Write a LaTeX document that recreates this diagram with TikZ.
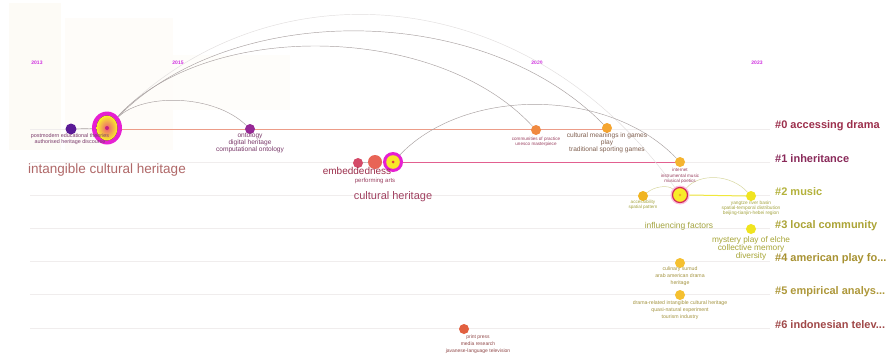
\documentclass[tikz,border=0pt]{standalone}
\usepackage{fontspec}
\setmainfont{Liberation Sans}
\usetikzlibrary{shapes.geometric}
\definecolor{yearc}{HTML}{D030E0}
\definecolor{c0}{HTML}{9C2F4C}
\definecolor{c1}{HTML}{8A2A5A}
\definecolor{c2}{HTML}{B4B23C}
\definecolor{c3}{HTML}{ACA436}
\definecolor{c4}{HTML}{A89232}
\definecolor{c5}{HTML}{AE983A}
\definecolor{c6}{HTML}{A04848}
\definecolor{arcgray}{HTML}{A8A0A0}
\definecolor{rowline}{HTML}{F0EDED}
\definecolor{lab0}{HTML}{7A3A6A}
\definecolor{lab1}{HTML}{9A4060}
\definecolor{labm}{HTML}{806050}
\definecolor{lab2}{HTML}{A4A440}
\definecolor{lab4}{HTML}{A49440}
\definecolor{lab6}{HTML}{904848}
\definecolor{cream}{HTML}{FDFBF6}
\definecolor{line0}{HTML}{EC9C88}
\definecolor{line1}{RGB}{226,96,144}
\definecolor{lineY}{RGB}{240,232,60}
\definecolor{arcY}{HTML}{D8D8A0}
\definecolor{ichlab}{HTML}{B06868}
\definecolor{chlab}{HTML}{A04060}
\definecolor{mystlab}{HTML}{A8A638}
\definecolor{magring}{RGB}{230,32,210}
\definecolor{fpost}{RGB}{90,26,150}
\definecolor{fonto}{RGB}{150,40,150}
\definecolor{fcomm}{RGB}{240,138,64}
\definecolor{fcmean}{RGB}{245,165,48}
\definecolor{finet}{RGB}{245,180,48}
\definecolor{fembed}{RGB}{212,74,104}
\definecolor{fperf}{RGB}{232,100,86}
\definecolor{facc}{RGB}{240,180,32}
\definecolor{fyel}{RGB}{240,228,32}
\definecolor{fgold}{RGB}{245,192,48}
\definecolor{fprint}{RGB}{226,96,64}
\definecolor{ichin}{RGB}{235,90,120}
\definecolor{ichout}{RGB}{250,240,40}
\definecolor{ichdot}{RGB}{200,30,130}
\definecolor{chyel}{RGB}{248,232,40}
\definecolor{chdot}{RGB}{220,60,60}
\definecolor{inhalo}{RGB}{250,190,220}
\definecolor{inring}{RGB}{210,40,90}
\definecolor{inyel}{RGB}{248,236,40}
\definecolor{indot}{RGB}{240,170,40}
\begin{document}
\begin{tikzpicture}[x=1pt,y=-1pt,
  arc/.style={draw=arcgray, line width=0.45pt},
  faintarc/.style={draw=arcgray!35, line width=0.45pt},
  rowln/.style={draw=rowline, line width=0.6pt},
  dot/.style={circle, inner sep=0pt, minimum size=10pt},
  year/.style={font=\fontsize{5}{6}\selectfont\bfseries, text=yearc, inner sep=0pt},
  clab/.style={font=\fontsize{11}{12}\selectfont\bfseries, anchor=west, inner sep=0pt},
  tiny/.style={font=\fontsize{4.6}{5.4}\selectfont, align=center, inner sep=0pt},
  small/.style={font=\fontsize{6.6}{6}\selectfont, align=center, inner sep=0pt},
  mid/.style={font=\fontsize{8.5}{8}\selectfont, align=center, inner sep=0pt},
  big/.style={font=\fontsize{11}{12}\selectfont, inner sep=0pt}]
\useasboundingbox (0,0) rectangle (890,361);
\fill[white] (0,0) rectangle (890,361);
% faint background panels
\fill[cream] (9,3) rectangle (61,150);
\fill[cream!70] (65,18) rectangle (173,150);
\fill[cream!60] (173,55) rectangle (290,110);
% row guide lines
\foreach \yy in {129,162,195,228,261,294,328}
  \draw[rowln] (30,\yy) -- (770,\yy);
% years
\node[year] (y2013) at (37,63) {2013};
\node[year] (y2015) at (178,63) {2015};
\node[year] (y2020) at (537,63) {2020};
\node[year] (y2023) at (757,63) {2023};
% coloured timeline lines
\coordinate (r0s) at (107,129);
\coordinate (r0e) at (607,129);
\coordinate (r1s) at (393,162);
\coordinate (r1e) at (680,162);
\draw[draw=line0, line width=1pt] (r0s) -- (r0e);
\draw[draw=line1, line width=1pt] (r1s) -- (r1e);
% arcs
\draw[faintarc] (107,128) .. controls +(150,-168) and +(-150,-220) .. (680,195);
% nodes
\node[dot, fill=fpost, minimum size=11pt] (post) at (71,129) {};
\node[dot, fill=fonto] (onto) at (250,129) {};
\node[dot, fill=fcomm] (comm) at (536,130) {};
\node[dot, fill=fcmean] (cmean) at (607,128) {};
\node[dot, fill=finet] (inet) at (680,162) {};
\node[dot, fill=fembed] (embed) at (358,163) {};
\node[dot, fill=fperf, minimum size=14pt] (perf) at (375,162) {};
\node[dot, fill=facc] (acc) at (643,196) {};
\node[dot, fill=fyel] (yang) at (751,196) {};
\node[dot, fill=fyel] (myst) at (751,229) {};
\node[dot, fill=fgold] (culi) at (680,263) {};
\node[dot, fill=fgold] (drel) at (680,295) {};
\node[dot, fill=fprint] (print) at (464,329) {};
% intangible cultural heritage (big burst node)
\node[ellipse, fill=magring, minimum width=30pt, minimum height=33pt, inner sep=0pt] (ich) at (107,128) {};
\fill[inner color=ichin, outer color=ichout] (ich.center) ellipse (10.5 and 12.5);
\fill[ichdot] (ich.center) circle (2);
% cultural heritage
\node[circle, fill=magring, minimum size=20pt, inner sep=0pt] (ch) at (393,162) {};
\fill[chyel] (ch.center) circle (6.8);
\fill[chdot] (ch.center) circle (1.5);
% influencing factors
\node[circle, fill=inhalo, minimum size=19pt, inner sep=0pt] (infl) at (680,195) {};
\draw[draw=inring, line width=1.2pt, fill=inyel] (infl.center) circle (7.5);
\fill[indot] (infl.center) circle (1.3);
% cluster 2 links
\draw[draw=lineY, line width=1pt] (infl.east) -- (yang.west);
\draw[draw=arcY, line width=0.5pt] (acc) .. controls +(12,-10) and +(-12,-10) .. (infl);
\draw[draw=arcY, line width=0.5pt] (infl) .. controls +(20,-22) and +(-20,-22) .. (yang);
% arcs
\draw[arc] (post) -- (ich);
\draw[arc] (ich) .. controls +(36,-35) and +(-36,-35) .. (onto);
\draw[arc] (ich) .. controls +(100,-108) and +(-100,-108) .. (comm);
\draw[arc] (ich) .. controls +(125,-127) and +(-125,-127) .. (cmean);
\draw[arc] (ch) .. controls +(72,-75) and +(-72,-75) .. (inet);
\draw[arc] (embed) -- (perf);
% labels
\node[tiny, text=lab0, font=\fontsize{5.4}{5.6}\selectfont] (postL) at (70,139) {postmodern educational theories\\authorised heritage discourse};
\node[big, text=ichlab, font=\fontsize{13.5}{14}\selectfont] (ichL) at (107,170) {intangible cultural heritage};
\node[small, text=lab0] (ontoL) at (250,142.5) {ontology\\digital heritage\\computational ontology};
\node[mid, text=c0, font=\fontsize{10}{10}\selectfont] (embedL) at (357,171) {embeddedness};
\node[tiny, text=lab1, font=\fontsize{6}{6}\selectfont] (perfL) at (375,181) {performing arts};
\node[big, text=chlab] (chL) at (393,197) {cultural heritage};
\node[tiny, text=lab1] (commL) at (536,142) {communities of practice\\unesco masterpiece};
\node[small, text=labm] (cmeanL) at (607,143) {cultural meanings in games\\play\\traditional sporting games};
\node[tiny, text=lab1] (inetL) at (680,176) {internet\\instrumental music\\musical poetics};
\node[tiny, text=lab2] (accL) at (643,205) {accessibility\\spatial pattern};
\node[tiny, text=lab2, font=\fontsize{4.8}{5.2}\selectfont] (yangL) at (751,208) {yangtze river basin\\spatial-temporal distribution\\beijing-tianjin-hebei region};
\node[mid, text=lab2] (inflL) at (679,226) {influencing factors};
\node[mid, text=mystlab, font=\fontsize{8.3}{8}\selectfont] (mystL) at (751,248) {mystery play of elche\\collective memory\\diversity};
\node[tiny, text=lab4, font=\fontsize{5.2}{6.8}\selectfont] (culiL) at (680,276) {culinary sumud\\arab american drama\\heritage};
\node[tiny, text=lab4, font=\fontsize{5.2}{6.8}\selectfont] (drelL) at (680,310) {drama-related intangible cultural heritage\\quasi-natural experiment\\tourism industry};
\node[tiny, text=lab6, font=\fontsize{5}{6.8}\selectfont] (printL) at (478,344) {print press\\media research\\javanese-language television};
% cluster labels
\node[clab, text=c0] (k0) at (775,126) {\#0 accessing drama};
\node[clab, text=c1] (k1) at (775,159) {\#1 inheritance};
\node[clab, text=c2] (k2) at (775,192) {\#2 music};
\node[clab, text=c3] (k3) at (775,226) {\#3 local community};
\node[clab, text=c4] (k4) at (775,259) {\#4 american play fo...};
\node[clab, text=c5] (k5) at (775,292) {\#5 empirical analys...};
\node[clab, text=c6] (k6) at (775,325) {\#6 indonesian telev...};
\end{tikzpicture}
\end{document}
